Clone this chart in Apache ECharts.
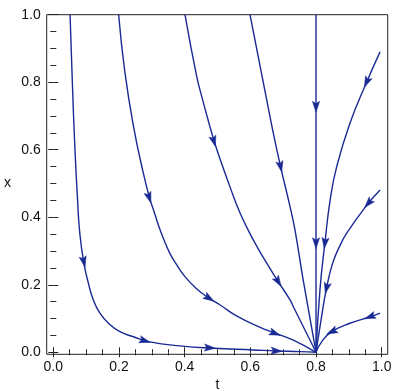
<!DOCTYPE html>
<html>
<head>
<meta charset="utf-8">
<script src="https://cdn.jsdelivr.net/npm/echarts@6/dist/echarts.min.js"></script>
<style>
html,body{margin:0;padding:0;background:#fff;}
#chart{width:400px;height:391px;}
</style>
</head>
<body>
<div id="chart"></div>
<script>
// Trajectories (t, x), ordered in the direction of flow toward the node (0.8, 0)
const curve1 = [[0.051,1.0],[0.058,0.8],[0.066,0.6],[0.074,0.45],[0.080,0.36],[0.092,0.27],[0.107,0.204],[0.122,0.155],[0.142,0.116],[0.168,0.086],[0.203,0.061],[0.244,0.046],[0.294,0.031],[0.386,0.019],[0.487,0.012],[0.609,0.007],[0.68,0.004],[0.751,0.002],[0.8,0.0]];
const curve2 = [[0.199,1.0],[0.218,0.83],[0.246,0.66],[0.272,0.54],[0.292,0.461],[0.305,0.422],[0.320,0.377],[0.335,0.338],[0.355,0.293],[0.376,0.259],[0.401,0.224],[0.431,0.193],[0.467,0.165],[0.508,0.14],[0.558,0.108],[0.63,0.074],[0.675,0.057],[0.731,0.036],[0.8,0.0]];
const curve3 = [[0.401,1.0],[0.437,0.816],[0.455,0.747],[0.472,0.686],[0.49,0.625],[0.508,0.572],[0.538,0.49],[0.569,0.412],[0.609,0.333],[0.65,0.264],[0.685,0.209],[0.721,0.155],[0.731,0.135],[0.8,0.0]];
const curve4 = [[0.599,1.0],[0.65,0.747],[0.67,0.649],[0.692,0.55],[0.721,0.431],[0.736,0.362],[0.761,0.214],[0.8,0.0]];
const curve5 = [[0.8,1.0],[0.8,0.0]];
const curve6 = [[0.995,0.89],[0.954,0.80],[0.903,0.678],[0.863,0.55],[0.843,0.451],[0.827,0.323],[0.812,0.185],[0.8,0.0]];
const curve7 = [[0.995,0.481],[0.959,0.441],[0.895,0.355],[0.87,0.31],[0.85,0.262],[0.832,0.19],[0.816,0.1],[0.8,0.0]];
const curve8 = [[0.995,0.116],[0.964,0.105],[0.903,0.086],[0.848,0.061],[0.817,0.031],[0.8,0.0]];

// Arrowhead positions on each trajectory
const arrows1 = [[0.093,0.268],[0.279,0.034],[0.477,0.013],[0.68,0.004]];
const arrows2 = [[0.292,0.458],[0.475,0.16],[0.675,0.056]];
const arrows3 = [[0.489,0.625],[0.685,0.209]];
const arrows4 = [[0.692,0.55]];
const arrows5 = [[0.8,0.727],[0.8,0.323]];
const arrows6 = [[0.954,0.80],[0.827,0.323]];
const arrows7 = [[0.959,0.441],[0.832,0.19]];
const arrows8 = [[0.964,0.105],[0.848,0.061]];

const tickValues = [0, 0.2, 0.4, 0.6, 0.8, 1.0];
const xName = 't';
const yName = 'x';

const curves = [curve1, curve2, curve3, curve4, curve5, curve6, curve7, curve8];
const arrowSets = [arrows1, arrows2, arrows3, arrows4, arrows5, arrows6, arrows7, arrows8];

const LINE = '#1a2a94';
const AX = '#222';
const FONT = 'Liberation Sans, Arial, Helvetica, sans-serif';

const arrowData = [];
arrowSets.forEach((set, ci) => set.forEach(p => arrowData.push([p[0], p[1], ci])));

function tickAxis(extra) {
  return Object.assign({
    type: 'value', min: 0, max: 1, interval: 0.2, gridIndex: 0,
    axisLine: { show: false },
    axisTick: { show: true, inside: true, length: 5, lineStyle: { color: AX, width: 1 } },
    minorTick: { show: true, splitNumber: 4, length: 3, lineStyle: { color: AX, width: 1 } },
    splitLine: { show: false },
    minorSplitLine: { show: false },
    axisLabel: { show: false }
  }, extra);
}
const labelStyle = {
  show: true, fontSize: 14, fontFamily: FONT, color: '#111', margin: 6,
  formatter: v => tickValues.some(tv => Math.abs(tv - v) < 1e-9) ? v.toFixed(1) : ''
};

const chart = echarts.init(document.getElementById('chart'), null, { renderer: 'canvas' });

const series = curves.map((c, i) => ({
  type: 'line', xAxisIndex: 0, yAxisIndex: 0, data: c,
  showSymbol: false, symbol: 'none', smooth: 0.5, silent: true,
  lineStyle: { color: LINE, width: 1.4 }, z: 3
}));

series.push({
  type: 'custom', xAxisIndex: 0, yAxisIndex: 0, data: arrowData, z: 4, silent: true,
  renderItem: function (params, api) {
    const p = api.coord([api.value(0), api.value(1)]);
    const pts = curves[api.value(2)].map(q => api.coord(q));
    let best = Infinity, dir = [0, 1];
    for (let i = 0; i < pts.length - 1; i++) {
      const a = pts[i], b = pts[i + 1];
      const dx = b[0] - a[0], dy = b[1] - a[1];
      const len2 = dx * dx + dy * dy;
      if (!len2) continue;
      let u = ((p[0] - a[0]) * dx + (p[1] - a[1]) * dy) / len2;
      u = Math.max(0, Math.min(1, u));
      const cx = a[0] + u * dx, cy = a[1] + u * dy;
      const d = (p[0] - cx) * (p[0] - cx) + (p[1] - cy) * (p[1] - cy);
      if (d < best) { best = d; const l = Math.sqrt(len2); dir = [dx / l, dy / l]; }
    }
    const L = 11, W = 3.6;
    const n = [-dir[1], dir[0]];
    const tip = [p[0] + dir[0] * L * 0.5, p[1] + dir[1] * L * 0.5];
    const back = [p[0] - dir[0] * L * 0.5, p[1] - dir[1] * L * 0.5];
    const notch = [p[0] - dir[0] * L * 0.3, p[1] - dir[1] * L * 0.3];
    return {
      type: 'polygon',
      shape: { points: [tip, [back[0] + n[0] * W, back[1] + n[1] * W], notch, [back[0] - n[0] * W, back[1] - n[1] * W]] },
      style: { fill: LINE, stroke: LINE, lineWidth: 0.5 }
    };
  }
});

chart.setOption({
  animation: false,
  backgroundColor: '#fff',
  grid: [
    { left: 53.3, right: 18.3, top: 14.7, bottom: 38.7, show: false, containLabel: false },
    { left: 46.7, right: 12.3, top: 14.7, bottom: 36.7, show: true, borderColor: AX, borderWidth: 1, backgroundColor: 'transparent', z: 5 }
  ],
  xAxis: [
    tickAxis({ position: 'bottom', offset: 2, axisLabel: labelStyle }),
    tickAxis({ position: 'top', offset: 0 }),
    { type: 'value', gridIndex: 1, min: 0, max: 1, show: false }
  ],
  yAxis: [
    tickAxis({ position: 'left', offset: 6.6, axisLabel: labelStyle }),
    tickAxis({ position: 'right', offset: 6 }),
    { type: 'value', gridIndex: 1, min: 0, max: 1, show: false }
  ],
  graphic: [
    { type: 'text', x: 217.5, y: 385, style: { text: xName, font: '14px ' + FONT, fill: '#111', align: 'center', verticalAlign: 'middle' } },
    { type: 'text', x: 7.5, y: 183.6, style: { text: yName, font: '14px ' + FONT, fill: '#111', align: 'center', verticalAlign: 'middle' } }
  ],
  series: series
});
</script>
</body>
</html>
